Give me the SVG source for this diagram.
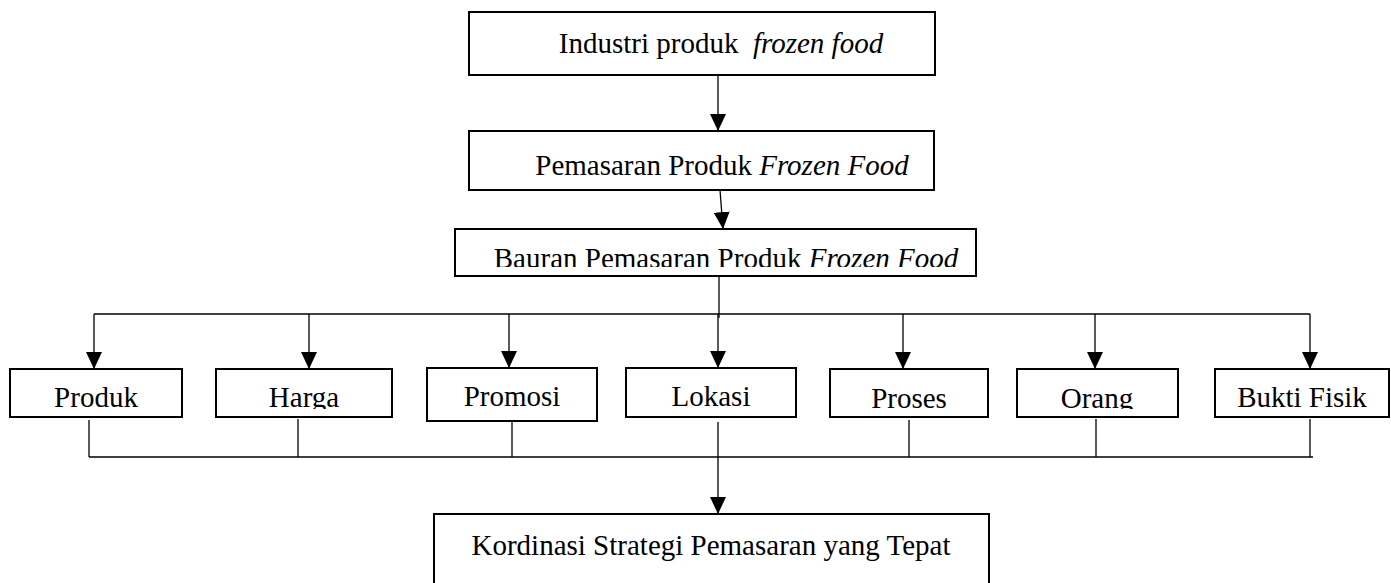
<svg xmlns="http://www.w3.org/2000/svg" width="1391" height="583" viewBox="0 0 1391 583">
<style>
.box{fill:#fff;stroke:#000;stroke-width:2}
.t{font-family:"Liberation Serif","Times New Roman",serif;font-size:29px;fill:#000;text-anchor:middle;white-space:pre}
.i{font-style:italic}
.c{fill:none;stroke:#000;stroke-width:1.3}
</style>
<defs>
<marker id="ah" viewBox="0 0 17 16" refX="17" refY="8" markerWidth="17" markerHeight="16" orient="auto" markerUnits="userSpaceOnUse"><path d="M0,0 L17,8 L0,16 z" fill="#000"/></marker>
<clipPath id="cb3"><rect x="455" y="229" width="521" height="38"/></clipPath>
<clipPath id="crow"><rect x="0" y="360" width="1391" height="49"/></clipPath>
</defs>
<rect width="1391" height="583" fill="#fff"/>
<g id="connectors">
<line class="c" x1="718" y1="75" x2="718" y2="131" marker-end="url(#ah)"/>
<line class="c" x1="720" y1="190" x2="723" y2="229" marker-end="url(#ah)"/>
<line class="c" x1="719" y1="276" x2="719" y2="318"/>
<line class="c" x1="94" y1="314" x2="1310" y2="314"/>
<line class="c" x1="94" y1="314" x2="94" y2="369" marker-end="url(#ah)"/>
<line class="c" x1="309" y1="314" x2="309" y2="369" marker-end="url(#ah)"/>
<line class="c" x1="509" y1="314" x2="509" y2="368" marker-end="url(#ah)"/>
<line class="c" x1="718" y1="314" x2="718" y2="368" marker-end="url(#ah)"/>
<line class="c" x1="903" y1="314" x2="903" y2="369" marker-end="url(#ah)"/>
<line class="c" x1="1095" y1="314" x2="1095" y2="369" marker-end="url(#ah)"/>
<line class="c" x1="1310" y1="314" x2="1310" y2="369" marker-end="url(#ah)"/>
<line class="c" x1="89" y1="420" x2="89" y2="457"/>
<line class="c" x1="298" y1="419" x2="298" y2="457"/>
<line class="c" x1="512" y1="416" x2="512" y2="457"/>
<line class="c" x1="909" y1="420" x2="909" y2="457"/>
<line class="c" x1="1096" y1="419" x2="1096" y2="457"/>
<line class="c" x1="1310" y1="419" x2="1310" y2="457"/>
<line class="c" x1="89" y1="457" x2="1313" y2="457"/>
<line class="c" x1="718" y1="422" x2="718" y2="514" marker-end="url(#ah)"/>
</g>
<g id="n1"><rect class="box" x="469" y="12" width="466" height="63"/><text class="t" x="721" y="53" xml:space="preserve">Industri produk  <tspan class="i">frozen food</tspan></text></g>
<g id="n2"><rect class="box" x="469" y="131" width="465" height="59"/><text class="t" x="722" y="175">Pemasaran Produk <tspan class="i">Frozen Food</tspan></text></g>
<g id="n3"><rect class="box" x="455" y="229" width="521" height="47"/><text class="t" x="726" y="268" clip-path="url(#cb3)">Bauran Pemasaran Produk <tspan class="i">Frozen Food</tspan></text></g>
<g id="n4"><rect class="box" x="10" y="369" width="172" height="48"/><text class="t" x="96" y="407" clip-path="url(#crow)">Produk</text></g>
<g id="n5"><rect class="box" x="216" y="369" width="176" height="48"/><text class="t" x="304" y="407" clip-path="url(#crow)">Harga</text></g>
<g id="n6"><rect class="box" x="427" y="368" width="170" height="53"/><text class="t" x="512" y="406" clip-path="url(#crow)">Promosi</text></g>
<g id="n7"><rect class="box" x="626" y="368" width="170" height="49"/><text class="t" x="711" y="406" clip-path="url(#crow)">Lokasi</text></g>
<g id="n8"><rect class="box" x="830" y="369" width="158" height="48"/><text class="t" x="909" y="408" clip-path="url(#crow)">Proses</text></g>
<g id="n9"><rect class="box" x="1017" y="369" width="161" height="48"/><text class="t" x="1097" y="408" clip-path="url(#crow)">Orang</text></g>
<g id="n10"><rect class="box" x="1215" y="369" width="174" height="48"/><text class="t" x="1302" y="407" clip-path="url(#crow)">Bukti Fisik</text></g>
<g id="n11"><rect class="box" x="434" y="514" width="555" height="80"/><text class="t" x="711" y="555">Kordinasi Strategi Pemasaran yang Tepat</text></g>
</svg>
